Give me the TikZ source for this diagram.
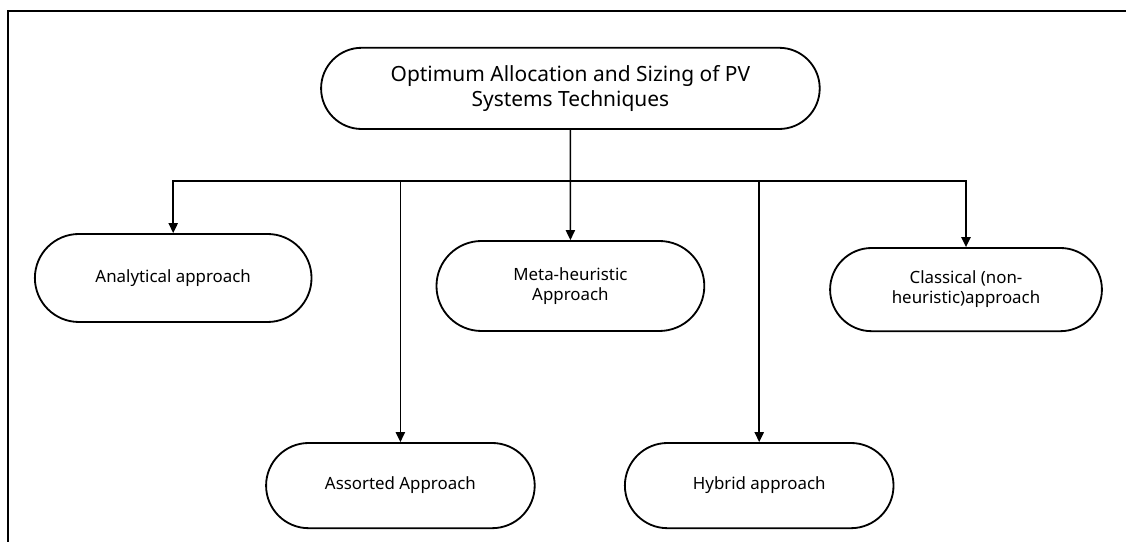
\documentclass[tikz,border=0pt]{standalone}
\usepackage{fontspec}
\setmainfont{Noto Sans}
\usetikzlibrary{shapes,arrows.meta,positioning}

\begin{document}
\begin{tikzpicture}[
    pill/.style={rounded rectangle, draw, line width=1.3pt, align=center, minimum width=6.95cm, minimum height=2.13cm, font=\fontsize{12}{14.2}\selectfont},
    conn/.style={-{Triangle[length=7pt,width=6.5pt]}, line width=1.1pt}
]
\useasboundingbox (0,0) rectangle (28.15,13.55);

% page frame (cut at right and bottom)
\draw[line width=2pt] (28.15,13.275) -- (0.2,13.275) -- (0.2,0);

\node[pill, minimum width=12.7cm, minimum height=2.03cm, font=\fontsize{14.9}{18}\selectfont] (root) at (14.26,11.34) {Optimum Allocation and Sizing of PV\\Systems Techniques};

\node[pill, minimum width=7.15cm, minimum height=2.2cm] (analytical) at (4.33,6.6) {Analytical approach};
\node[pill, minimum width=6.93cm, minimum height=2.25cm] (meta) at (14.26,6.4) {Meta-heuristic\\Approach};
\node[pill, minimum width=7.03cm, minimum height=2.08cm] (classical) at (24.15,6.31) {Classical (non-\\heuristic)approach};
\node[pill] (assorted) at (10.01,1.41) {Assorted Approach};
\node[pill] (hybrid) at (18.98,1.41) {Hybrid approach};

\coordinate (bus) at (14.26,9.03);

\draw[conn] (root) -- (meta);
\draw[conn] (bus) -| (analytical.north);
\draw[conn] (bus) -| (assorted.north);
\draw[conn] (bus) -| (hybrid.north);
\draw[conn] (bus) -| (classical.north);

\end{tikzpicture}
\end{document}
